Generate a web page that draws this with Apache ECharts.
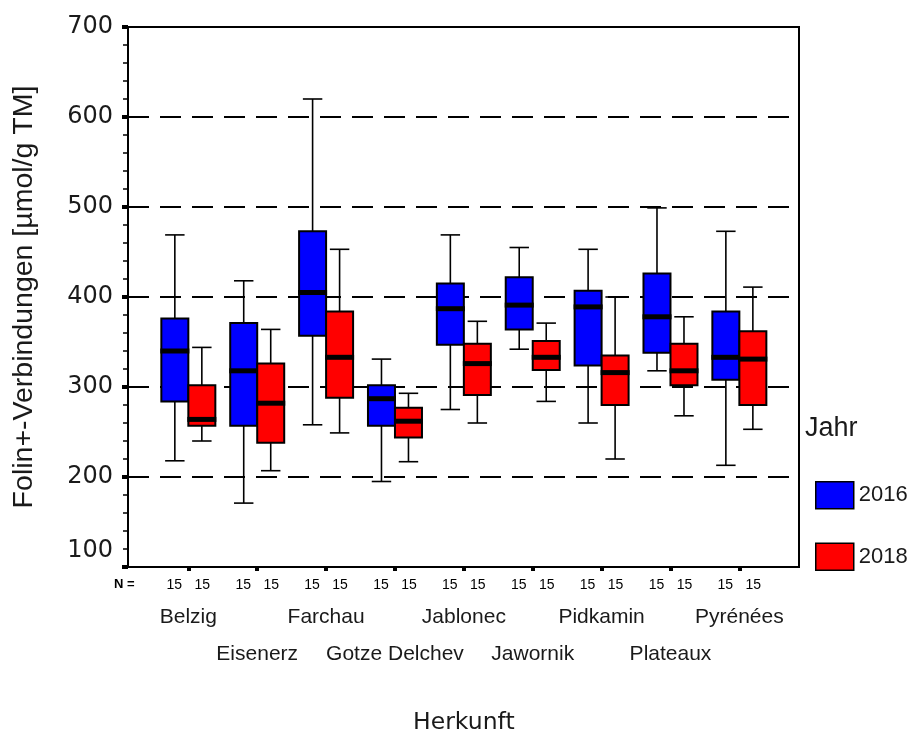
<!DOCTYPE html>
<html><head><meta charset="utf-8">
<script src="https://cdn.jsdelivr.net/npm/echarts@6/dist/echarts.min.js"></script>
<style>html,body{margin:0;padding:0;background:#fff}#c{width:907px;height:733px}</style>
</head><body><div id="c"></div>
<script>
const categories = ['Belzig','Eisenerz','Farchau','Gotze Delchev','Jablonec','Jawornik','Pidkamin','Plateaux','Pyrénées'];
const years = ['2016', '2018'];
const nCounts2016 = [15,15,15,15,15,15,15,15,15];
const nCounts2018 = [15,15,15,15,15,15,15,15,15];
// each entry: [min, Q1, median, Q3, max]
const box2016 = [
  [218,284,340,376,469],
  [171,257,318,371,418],
  [258,357,405,473,620],
  [195,257,287,302,331],
  [275,347,387,415,469],
  [342,364,391,422,455],
  [260,324,389,407,453],
  [318,338,378,426,499],
  [213,308,333,384,473]
];
const box2018 = [
  [240,257,264,302,344],
  [207,238,282,326,364],
  [249,288,333,384,453],
  [217,244,262,277,293],
  [260,291,326,348,373],
  [284,319,333,351,371],
  [220,280,316,335,400],
  [268,302,318,348,378],
  [253,280,331,362,411]
];
const yMin = 100, yMax = 700, yStep = 100;

const TXT = '#1a1a1a';
const DV = 'DejaVu Sans';
const LB = 'Liberation Sans, Arial, sans-serif';

function makeRender(side) {
  return function (params, api) {
    const i = api.value(0);
    const band = api.size([1, 0])[0];
    const bw = band * 0.392;
    const cap = bw * 0.72;
    const p = [1, 2, 3, 4, 5].map(d => api.coord([i, api.value(d)]));
    const cx = p[0][0] + side * bw / 2;
    const yMn = p[0][1], yQ1 = p[1][1], yMd = p[2][1], yQ3 = p[3][1], yMx = p[4][1];
    const color = api.visual('color');
    const ls = { stroke: '#000', lineWidth: 1.6 };
    return {
      type: 'group',
      children: [
        { type: 'line', shape: { x1: cx, y1: yMx, x2: cx, y2: yQ3 }, style: ls },
        { type: 'line', shape: { x1: cx, y1: yQ1, x2: cx, y2: yMn }, style: ls },
        { type: 'line', shape: { x1: cx - cap / 2, y1: yMx, x2: cx + cap / 2, y2: yMx }, style: ls },
        { type: 'line', shape: { x1: cx - cap / 2, y1: yMn, x2: cx + cap / 2, y2: yMn }, style: ls },
        { type: 'rect', shape: { x: cx - bw / 2, y: yQ3, width: bw, height: yQ1 - yQ3 }, style: { fill: color, stroke: '#000', lineWidth: 2 } },
        { type: 'rect', shape: { x: cx - bw / 2 - 1, y: yMd - 2.5, width: bw + 2, height: 5 }, style: { fill: '#000' } }
      ]
    };
  };
}

const chart = echarts.init(document.getElementById('c'), null, { renderer: 'canvas' });
chart.setOption({
  animation: false,
  backgroundColor: '#fff',
  title: [
    { text: 'Jahr', left: 805, top: 415, padding: 0, textStyle: { fontFamily: LB, fontSize: 27, fontWeight: 'normal', color: TXT } },
    { text: 'N =', left: 114, top: 578, padding: 0, textStyle: { fontFamily: LB, fontSize: 13, fontWeight: 'bold', color: '#000' } }
  ],
  legend: {
    orient: 'vertical', left: 815, top: 481, padding: 0,
    itemWidth: 38, itemHeight: 27, itemGap: 33, selectedMode: false,
    icon: 'rect',
    textStyle: { fontFamily: LB, fontSize: 22, color: TXT },
    data: [
      { name: years[0], itemStyle: { color: '#0000ff', borderColor: '#000', borderWidth: 1.5 } },
      { name: years[1], itemStyle: { color: '#ff0000', borderColor: '#000', borderWidth: 1.5 } }
    ]
  },
  grid: [
    { left: 128, top: 27, width: 671, height: 540, show: true, borderColor: '#000', borderWidth: 2, backgroundColor: 'transparent', containLabel: false, outerBoundsMode: 'none' },
    { left: 153.9, top: 27, width: 619.9, height: 540, containLabel: false, outerBoundsMode: 'none' }
  ],
  xAxis: [
    { gridIndex: 0, type: 'value', show: false, min: 0, max: 1 },
    {
      gridIndex: 1, type: 'category', data: categories, position: 'bottom',
      axisLine: { show: false },
      axisTick: { show: true, alignWithLabel: true, length: 4, lineStyle: { color: '#000', width: 4 } },
      axisLabel: {
        interval: 0, margin: 11,
        formatter: (v, i) => '{a|' + nCounts2016[i] + '}{b|' + nCounts2018[i] + '}',
        rich: {
          a: { width: 28, align: 'center', fontFamily: LB, fontSize: 14, color: '#000' },
          b: { width: 28, align: 'center', fontFamily: LB, fontSize: 14, color: '#000' }
        }
      },
      name: 'Herkunft', nameLocation: 'middle', nameGap: 144,
      nameTextStyle: { fontFamily: DV, fontSize: 23.5, color: TXT }
    },
    {
      gridIndex: 1, type: 'category', data: categories, position: 'bottom',
      axisLine: { show: false }, axisTick: { show: false },
      axisLabel: { interval: 0, margin: 40, fontFamily: LB, fontSize: 21, color: TXT,
        formatter: (v, i) => (i % 2 === 0 ? v : '') }
    },
    {
      gridIndex: 1, type: 'category', data: categories, position: 'bottom',
      axisLine: { show: false }, axisTick: { show: false },
      axisLabel: { interval: 0, margin: 77, fontFamily: LB, fontSize: 21, color: TXT,
        formatter: (v, i) => (i % 2 === 1 ? v : '') }
    }
  ],
  yAxis: [
    {
      gridIndex: 0, type: 'value', min: yMin, max: yMax, interval: yStep,
      name: 'Folin+-Verbindungen [µmol/g TM]', nameLocation: 'middle', nameGap: 89,
      nameTextStyle: { fontFamily: LB, fontSize: 28.5, color: TXT },
      axisLine: { show: true, lineStyle: { color: '#000', width: 2 } },
      axisTick: { show: true, length: 6, lineStyle: { color: '#000', width: 4 } },
      minorTick: { show: true, splitNumber: 5, length: 5, lineStyle: { color: '#000', width: 1.5 } },
      splitLine: { show: true, lineStyle: { color: '#000', width: 2, type: [21, 11] } },
      axisLabel: {
        margin: 15, fontFamily: DV, fontSize: 24, color: TXT,
        formatter: v => (v === yMin ? '{lo|' + v + '}' : String(v)),
        rich: { lo: { padding: [0, 0, 33, 0], fontFamily: DV, fontSize: 24, color: TXT } }
      }
    },
    { gridIndex: 1, type: 'value', min: yMin, max: yMax, interval: yStep, show: false, splitLine: { show: false } }
  ],
  series: [
    {
      name: years[0], type: 'custom', xAxisIndex: 1, yAxisIndex: 1,
      itemStyle: { color: '#0000ff' },
      renderItem: makeRender(-1),
      encode: { x: 0, y: [1, 2, 3, 4, 5] },
      data: box2016.map((b, i) => [i].concat(b))
    },
    {
      name: years[1], type: 'custom', xAxisIndex: 1, yAxisIndex: 1,
      itemStyle: { color: '#ff0000' },
      renderItem: makeRender(1),
      encode: { x: 0, y: [1, 2, 3, 4, 5] },
      data: box2018.map((b, i) => [i].concat(b))
    }
  ]
});
</script>
</body></html>
